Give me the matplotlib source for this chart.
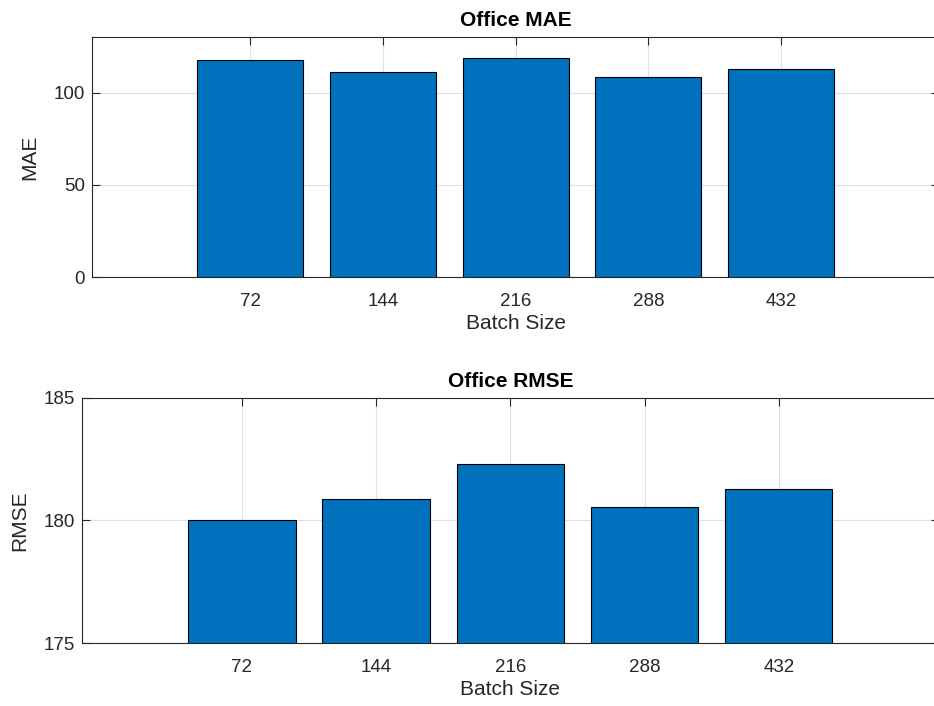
import matplotlib
matplotlib.use('Agg')
import matplotlib.pyplot as plt
import numpy as np

plt.rcParams['font.family'] = ['Liberation Sans', 'DejaVu Sans']

# values
batch_sizes = ['72', '144', '216', '288', '432']
mae = [117.9, 111.1, 118.6, 108.5, 113.0]
rmse = [180.02, 180.89, 182.31, 180.56, 181.27]

bar_color = '#0072BD'
ax_color = '#262626'

fig = plt.figure(figsize=(9.34, 7.06), dpi=100)
ax1 = fig.add_axes([0.0983, 0.6072, 0.9075, 0.3408])
ax2 = fig.add_axes([0.0874, 0.0888, 0.918, 0.3479])

x = np.arange(1, len(batch_sizes) + 1)


def style(ax, title, ylabel, ylim, yticks):
    ax.set_xlim(-0.194, 6.194)
    ax.set_ylim(*ylim)
    ax.set_xticks(x)
    ax.set_xticklabels(batch_sizes)
    ax.set_yticks(yticks)
    ax.set_axisbelow(True)
    ax.grid(True, color='#dfdfdf', linewidth=0.8)
    ax.tick_params(direction='in', length=6, width=0.8, colors=ax_color,
                   labelsize=13.5, top=True, right=True)
    ax.tick_params(axis='x', pad=11)
    ax.tick_params(axis='y', pad=5)
    for s in ax.spines.values():
        s.set_color(ax_color)
        s.set_linewidth(0.8)
    ax.set_title(title, fontsize=15, fontweight='bold', color='black', pad=8)
    ax.set_xlabel('Batch Size', fontsize=15, color=ax_color, labelpad=3)
    ax.set_ylabel(ylabel, fontsize=15, color=ax_color, labelpad=10)


ax1.bar(x, mae, width=0.8, color=bar_color, edgecolor='black', linewidth=0.8)
style(ax1, 'Office MAE', 'MAE', (0, 130.3), [0, 50, 100])

ax2.bar(x, rmse, width=0.8, color=bar_color, edgecolor='black', linewidth=0.8)
style(ax2, 'Office RMSE', 'RMSE', (175, 185), [175, 180, 185])

fig.savefig('out.png', dpi=100)
